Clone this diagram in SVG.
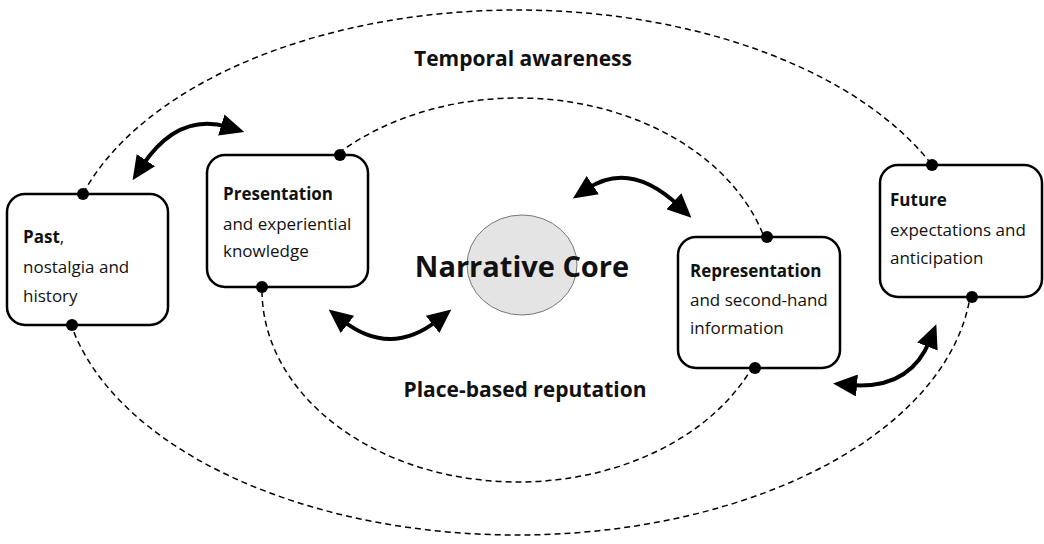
<svg xmlns="http://www.w3.org/2000/svg" width="1044" height="544" viewBox="0 0 1044 544">
<defs>
<style>
.ring{fill:none;stroke:#000;stroke-width:1.5;stroke-dasharray:6 4}
.box{fill:#fff;stroke:#000;stroke-width:2.5}
.dot{fill:#000}
.arc{fill:none;stroke:#000;stroke-width:4}
.t{font-family:"Open Sans","Noto Sans",sans-serif;font-size:17px;fill:#111}
.b{font-weight:bold}
.big{font-family:"Open Sans","Noto Sans",sans-serif;font-weight:bold;fill:#111}
</style>
<marker id="ah" viewBox="0 0 24 22" markerWidth="24" markerHeight="22" refX="7" refY="11" orient="auto-start-reverse" markerUnits="userSpaceOnUse">
<path d="M0,0 L24,11 L0,22 Z" fill="#000"/>
</marker>
</defs>
<rect width="1044" height="544" fill="#fff"/>
<g id="rings">
<ellipse class="ring" cx="517" cy="272.5" rx="455" ry="262.5"/>
<ellipse class="ring" cx="518" cy="290" rx="256" ry="192"/>
</g>
<text class="big" x="523" y="66" font-size="21" text-anchor="middle">Temporal awareness</text>
<text class="big" x="525" y="397" font-size="21" text-anchor="middle">Place-based reputation</text>
<g id="core">
<ellipse cx="522" cy="265" rx="55" ry="50" fill="#e4e4e4" stroke="#777" stroke-width="1"/>
<text class="big" x="522" y="277" font-size="29" text-anchor="middle">Narrative Core</text>
</g>
<g id="past">
<rect class="box" x="7" y="194" width="161" height="131" rx="18"/>
<text class="t" x="23" y="243"><tspan class="b">Past</tspan>,</text>
<text class="t" x="23" y="273">nostalgia and</text>
<text class="t" x="23" y="302">history</text>
<circle class="dot" cx="83" cy="194" r="6"/>
<circle class="dot" cx="72" cy="325" r="6"/>
</g>
<g id="presentation">
<rect class="box" x="207" y="155" width="161" height="132" rx="18"/>
<text class="t b" x="223" y="200">Presentation</text>
<text class="t" x="223" y="230">and experiential</text>
<text class="t" x="223" y="257">knowledge</text>
<circle class="dot" cx="340" cy="155" r="6"/>
<circle class="dot" cx="262" cy="287" r="6"/>
</g>
<g id="representation">
<rect class="box" x="678" y="237" width="162" height="131" rx="18"/>
<text class="t b" x="690" y="277">Representation</text>
<text class="t" x="690" y="306">and second-hand</text>
<text class="t" x="690" y="334">information</text>
<circle class="dot" cx="767" cy="237" r="6"/>
<circle class="dot" cx="755" cy="368" r="6"/>
</g>
<g id="future">
<rect class="box" x="880" y="165" width="162" height="132" rx="18"/>
<text class="t b" x="890" y="206">Future</text>
<text class="t" x="890" y="236">expectations and</text>
<text class="t" x="890" y="264">anticipation</text>
<circle class="dot" cx="932" cy="165" r="6"/>
<circle class="dot" cx="972" cy="297" r="6"/>
</g>
<g id="connectors">
<path class="arc" d="M142,166 Q178,112 228,127" marker-start="url(#ah)" marker-end="url(#ah)"/>
<path class="arc" d="M342,320 Q390,358 438,320" marker-start="url(#ah)" marker-end="url(#ah)"/>
<path class="arc" d="M587,189 Q630,160 679,206" marker-start="url(#ah)" marker-end="url(#ah)"/>
<path class="arc" d="M850,385 Q910,390 930,340" marker-start="url(#ah)" marker-end="url(#ah)"/>
</g>
</svg>
